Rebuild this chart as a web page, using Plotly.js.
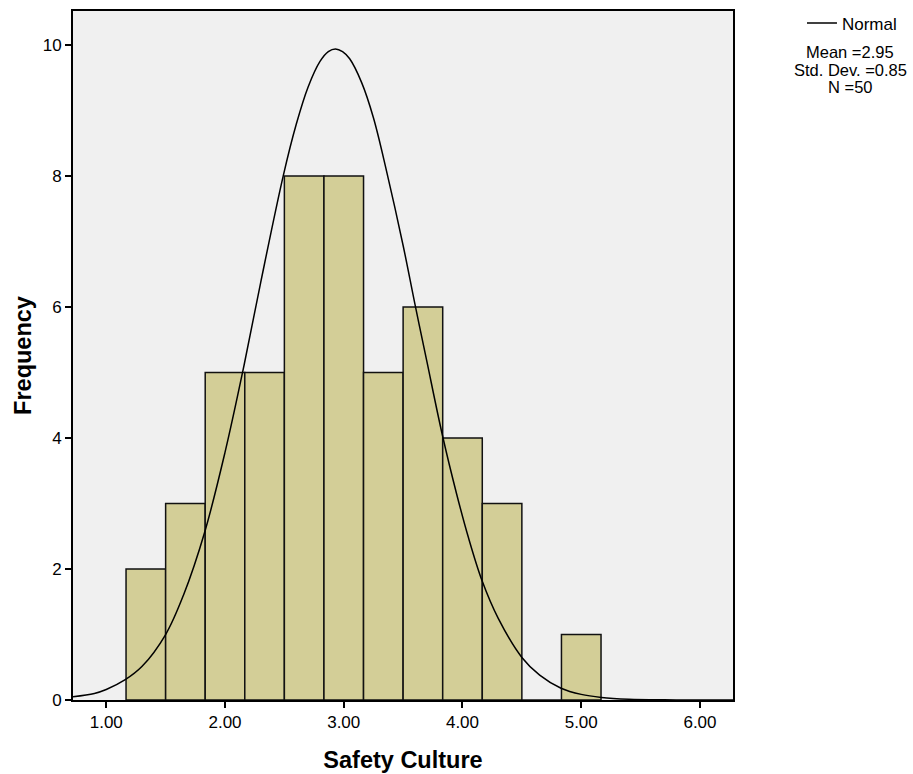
<!DOCTYPE html>
<html>
<head>
<meta charset="utf-8">
<script src="https://cdn.plot.ly/plotly-3.0.1.min.js"></script>
<style>html,body{margin:0;padding:0;background:#fff;}#chart{width:913px;height:774px;}</style>
</head>
<body>
<div id="chart"></div>
<script>
// Histogram bins (centres) and counts
const binCenters = [1.3333, 1.6667, 2.0, 2.3333, 2.6667, 3.0, 3.3333, 3.6667, 4.0, 4.3333, 4.6667, 5.0];
const counts     = [2, 3, 5, 5, 8, 8, 5, 6, 4, 3, 0, 1];
const binWidth = 1/3;

// Normal curve, points
const curveX = [0.72, 0.90, 1.00, 1.16, 1.30, 1.50, 1.65, 1.83, 2.00, 2.15, 2.30, 2.49, 2.60, 2.70, 2.80, 2.87, 2.93,
                2.99, 3.05, 3.15, 3.25, 3.36, 3.50, 3.60, 3.70, 3.83, 3.95, 4.05, 4.165, 4.30, 4.50, 4.65, 4.83, 5.00, 5.17, 5.40, 5.70, 6.00, 6.28];
const curveY = [0.05, 0.10, 0.16, 0.31, 0.51, 1.00, 1.60, 2.57, 3.78, 5.02, 6.37, 8.00, 8.79, 9.36, 9.75, 9.90, 9.94,
                9.90, 9.79, 9.43, 8.89, 8.08, 6.94, 6.04, 5.17, 4.05, 3.15, 2.48, 1.82, 1.25, 0.65, 0.38, 0.18, 0.086, 0.04, 0.012, 0.002, 0.0, 0.0];

const xTicks = [1, 2, 3, 4, 5, 6];
const xTickText = ["1.00", "2.00", "3.00", "4.00", "5.00", "6.00"];
const yTicks = [0, 2, 4, 6, 8, 10];

const statsLines = ["Mean =2.95", "Std. Dev. =0.85", "N =50"];
const statsY = [0.9405, 0.9144, 0.8897];

const FONT = "Liberation Sans, Arial, sans-serif";

const traces = [
  {
    type: "bar",
    x: binCenters,
    y: counts,
    width: binCenters.map(() => binWidth),
    marker: {color: "rgb(211,206,151)", line: {color: "#111", width: 1.5}},
    showlegend: false,
    hoverinfo: "x+y"
  },
  {
    type: "scatter",
    mode: "lines",
    x: curveX,
    y: curveY,
    line: {color: "#000", width: 1.5, shape: "spline", smoothing: 1},
    name: "Normal",
    showlegend: true
  }
];

const layout = {
  width: 913,
  height: 774,
  margin: {l: 73, r: 180, t: 11, b: 74, pad: 0, autoexpand: false},
  paper_bgcolor: "#fff",
  plot_bgcolor: "#f0f0f0",
  font: {family: FONT, color: "#000", size: 17},
  bargap: 0,
  xaxis: {
    range: [0.72, 6.278],
    tickvals: xTicks,
    ticktext: xTickText,
    ticks: "outside",
    ticklen: 6,
    tickwidth: 2,
    tickcolor: "#000",
    showline: true,
    linecolor: "#000",
    linewidth: 2,
    mirror: true,
    showgrid: false,
    zeroline: false,
    tickfont: {size: 17, family: FONT},
    title: {text: "<b>Safety Culture</b>", font: {size: 23.5, family: FONT}, standoff: 20}
  },
  yaxis: {
    range: [0, 10.52],
    tickvals: yTicks,
    ticks: "outside",
    ticklen: 6,
    tickwidth: 2,
    tickcolor: "#000",
    showline: true,
    linecolor: "#000",
    linewidth: 2,
    mirror: true,
    showgrid: false,
    zeroline: false,
    tickfont: {size: 17, family: FONT},
    title: {text: "<b>Frequency</b>", font: {size: 23.5, family: FONT}, standoff: 4}
  },
  showlegend: true,
  legend: {
    x: 1.1045, y: 1.008, xanchor: "left", yanchor: "top",
    bgcolor: "rgba(0,0,0,0)",
    font: {size: 17, family: FONT},
    itemwidth: 30,
    tracegroupgap: 0
  },
  annotations: statsLines.map((t, i) => ({
    xref: "paper", yref: "paper",
    x: 1.1773, y: statsY[i], xanchor: "center", yanchor: "middle",
    text: t,
    showarrow: false,
    align: "center",
    borderpad: 0,
    font: {size: 16.5, family: FONT}
  }))
};

Plotly.newPlot("chart", traces, layout, {displayModeBar: false, staticPlot: true});
</script>
</body>
</html>
